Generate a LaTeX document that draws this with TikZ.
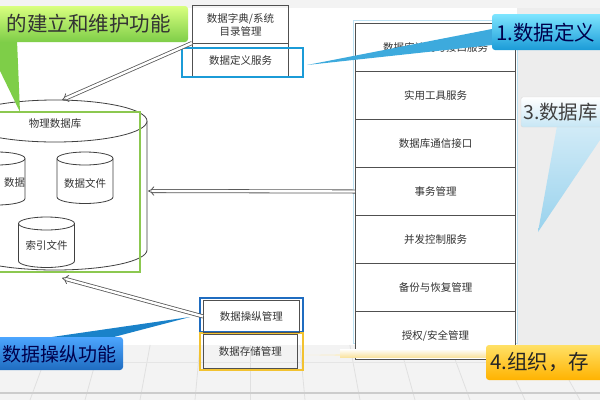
\documentclass[tikz,border=0pt]{standalone}
\usepackage{fontspec}
\newfontfamily\cjk{Noto Sans CJK SC}
\usetikzlibrary{arrows.meta}
\definecolor{boxtext}{HTML}{333333}
\definecolor{boxline}{HTML}{505050}
\definecolor{cyanb}{HTML}{1B9BD7}
\definecolor{manipblue}{HTML}{1F6CC0}
\definecolor{storeyel}{HTML}{F2C230}
\definecolor{grn}{HTML}{8CC850}
\definecolor{floorbg}{HTML}{F3F3F3}
\definecolor{sidebg}{HTML}{EDEDED}
\tikzset{
  boxtxt/.style={font=\cjk\fontsize{10.5}{13}\selectfont, text=boxtext, align=center},
  rowbox/.style={boxtxt, draw=boxline, line width=1pt, minimum width=160pt, minimum height=48pt, inner sep=0pt, anchor=north west, fill=white},
  dbl/.style={draw=black!65, line width=0.8pt, double=white, double distance=2.4pt, -{Implies}},
  calltxt/.style={font=\cjk\fontsize{20.5}{24}\selectfont, inner sep=0pt},
  floorline/.style={draw=black!12, line width=0.8pt},
  cylline/.style={draw=black!75, line width=0.8pt, fill=white}
}
\begin{document}
\begin{tikzpicture}[x=1pt,y=-1pt]
\useasboundingbox (0,0) rectangle (600,400);
\clip (0,0) rectangle (600,400);
% backgrounds
\fill[floorbg] (0,0) rectangle (600,400);
\fill[sidebg] (517,8) rectangle (600,345);
\fill[white] (0,8) rectangle (517,345);
\foreach \i in {-6,...,8} {
  \draw[floorline] ({250+55*\i*0.908},345) -- ({250+55*\i},400);
}
\draw[draw=black!20, line width=1.5pt] (0,393) -- (600,393);
\draw[draw=black!10, line width=0.8pt] (0,362) -- (600,362);

% big cylinder
\draw[cylline] (-37,121) -- (-37,250) arc[start angle=180,end angle=360,x radius=92pt,y radius=20pt] -- (147,121);
\draw[cylline] (55,121) ellipse [x radius=92pt, y radius=21pt];
\node[boxtxt] (phys) at (55,124) {物理数据库};
\draw[grn, line width=2pt] (-5,112) rectangle (140,272);
% small cylinders
\foreach \cx/\ty/\by in {-3/158.5/198.5, 85/158.5/197, 46.5/223.5/261} {
  \draw[cylline] ({\cx-28},\ty) -- ({\cx-28},\by) arc[start angle=180,end angle=360,x radius=28pt,y radius=6.5pt] -- ({\cx+28},\ty);
  \draw[cylline] (\cx,\ty) ellipse [x radius=28pt, y radius=6.5pt];
}
\node[boxtxt, anchor=west] (logdata) at (0.5,183) {数据};
\node[boxtxt] (datafile) at (85,183) {数据文件};
\node[boxtxt] (indexfile) at (46.5,245) {索引文件};
\coordinate (cyltop) at (62,100);
\coordinate (cylright) at (148,191);
\coordinate (cylbot) at (62,278);

% top middle boxes
\node[boxtxt, draw=boxline, line width=1pt, minimum width=96pt, minimum height=38pt, inner sep=0pt, anchor=north west] (dict) at (192,5) {数据字典/系统\\目录管理};
\node[boxtxt, draw=boxline, line width=1pt, minimum width=96pt, minimum height=33pt, inner sep=0pt, anchor=north west] (defserv) at (192,43) {数据定义服务};
\draw[cyanb, line width=2.8pt] (182,48) rectangle (303,77);

% right column
\draw[draw=cyanb!30, line width=1pt] (353,20) rectangle (517,343);
\node[rowbox] (r1) at (355,23) {数据库访问与接口服务};
\node[rowbox] (r2) at (355,71) {实用工具服务};
\node[rowbox] (r3) at (355,119) {数据库通信接口};
\node[rowbox] (r4) at (355,167) {事务管理};
\node[rowbox] (r5) at (355,215) {并发控制服务};
\node[rowbox] (r6) at (355,263) {备份与恢复管理};
\node[rowbox] (r7) at (355,311) {授权/安全管理};

% bottom middle boxes
\draw[manipblue, line width=2.5pt] (200,298) rectangle (303,332);
\draw[storeyel, line width=2.5pt] (200,333) rectangle (303,370);
\node[boxtxt, draw=boxline, line width=0.8pt, minimum width=96pt, minimum height=32pt, inner sep=0pt, anchor=north west] (manip) at (203,300) {数据操纵管理};
\node[boxtxt, draw=boxline, line width=0.8pt, minimum width=94pt, minimum height=34pt, inner sep=0pt, anchor=north west] (store) at (203,334) {数据存储管理};

% arrows
\draw[dbl] (defserv.north west) -- (cyltop);
\draw[dbl] (r4.west) -- (cylright);
\draw[dbl] (manip.west) -- (cylbot);

% callout 4 (yellow)
\fill[storeyel!30] (486,352) -- (486,358) -- (305,355) -- cycle;
\shade[top color=white, bottom color=storeyel!45] (340,349) rectangle (486,357);
\shade[top color=yellow!60!orange!60, bottom color=orange!60!yellow, rounded corners=3pt] (486,345) rectangle (612,380);
\node[calltxt, anchor=west, text=black!85] (c4) at (490,362) {4.组织，存};

% callout 1 (cyan)
\fill[cyanb!85] (492,29) -- (492,45) -- (307,65) -- cycle;
\shade[top color=cyan!45!white!90!blue, bottom color=cyanb, rounded corners=3pt] (492,14) rectangle (612,50);
\node[calltxt, anchor=west, text=blue!30!black] (c1) at (496,33) {1.数据定义};

% callout 3 (light blue)
\shade[top color=cyanb!20, bottom color=cyanb!45] (557,126) -- (600,126) -- (600,140) -- (538,232) -- cycle;
\shade[top color=white, bottom color=cyanb!25, draw=black!15, rounded corners=2pt] (521,97) rectangle (612,127);
\node[calltxt, anchor=west, text=black!75, font=\cjk\fontsize{19.5}{23}\selectfont] (c3) at (523,112) {3.数据库};

% callout 2 (green)
\fill[grn!90!green] (-15,40) -- (17,40) -- (20,112) -- cycle;
\shade[top color=green!30!yellow!50, bottom color=grn!90!green, rounded corners=3pt] (-10,6) rectangle (188,42);
\node[calltxt, anchor=east, text=black!80] (c2) at (171,24) {的建立和维护功能};

% callout bottom-left (blue)
\fill[manipblue!85!cyan] (45,338) -- (110,338) -- (190,317) -- cycle;
\shade[top color=blue!50!cyan!70, bottom color=manipblue, rounded corners=3pt] (-10,337) rectangle (123,370);
\node[calltxt, anchor=east, text=blue!30!black, font=\cjk\fontsize{19}{22}\selectfont] (c5) at (117,354) {数据操纵功能};
\end{tikzpicture}
\end{document}
